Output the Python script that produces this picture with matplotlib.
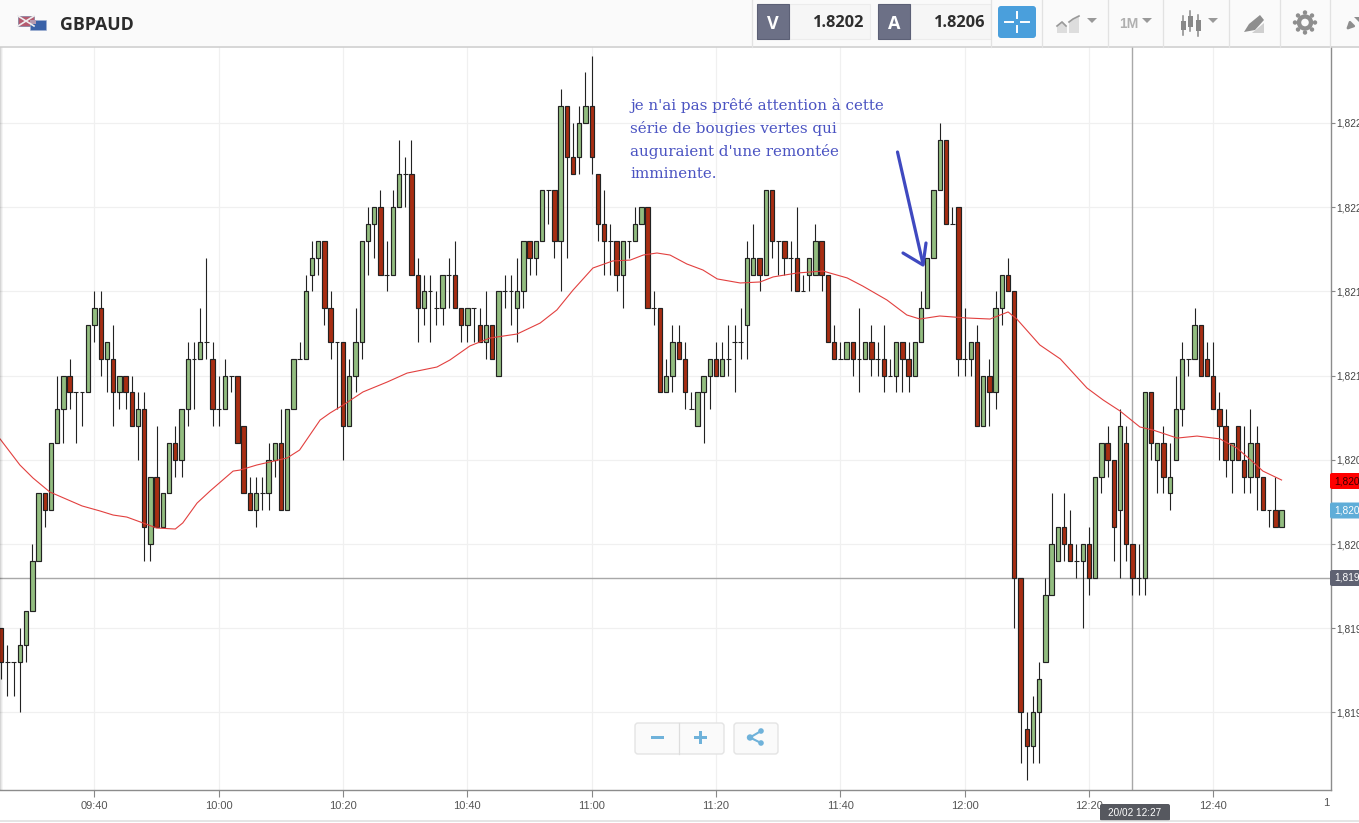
import matplotlib
matplotlib.use("Agg")
import matplotlib.pyplot as plt
from matplotlib.patches import Rectangle, FancyBboxPatch, Circle, Polygon

# ---------- data (prices as pips from 1.8200, one candle per minute) ----------
BASE = 1.8200
PIP = 0.0001
first_minute = -15   # minutes relative to 09:40

opens = [-5,-7,-7,-7,-6,-4,-1,3,2,6, 8,10,9,9,9,13,14,11,11,9,
         10,9,7,8,0,4,1,3,6,5, 8,11,11,12,11,8,8,10,10,7,
         3,2,3,3,5,6,2,8,11,11, 16,17,18,14,12,12,7,10,12,18,
         19,20,16,16,20,22,22,16,14,15, 14,14,16,16,14,13,14,13,12,13,
         10,15,15,14,15,18,17,18,21,21, 18,26,23,23,25,26,22,19,18,18,
         16,18,18,19,20,14,14,9,10,12, 11,8,7,9,10,11,10,11,12,12,
         13,16,17,16,21,18,18,17,17,15, 16,16,18,16,12,11,11,12,11,11,
         12,11,11,10,10,12,11,10,12,14, 17,21,24,19,20,11,11,12,7,10,
         9,14,16,15,-2,-11,-12,-10,-7,-3, -1,1,0,-1,-1,0,-2,4,6,5,
         2,6,0,-2,-2,9,5,6,3,5, 8,11,11,13,11,10,8,7,5,7,
         5,4,6,4,2,2,1]
closes = [-7,-7,-7,-6,-4,-1,3,2,6,8, 10,9,9,9,13,14,11,12,9,10,
          9,7,8,1,4,1,3,6,5,8, 11,11,12,12,8,8,10,10,6,3,
          2,3,3,5,6,2,8,11,11,15, 17,18,14,12,12,7,10,12,18,19,
          20,16,16,20,22,22,16,14,15,15, 14,16,16,14,13,14,14,12,13,11,
          15,15,15,15,18,17,18,21,21,18, 26,23,22,25,26,23,19,18,18,16,
          18,18,19,20,14,14,9,10,12,11, 9,8,9,10,11,10,11,11,12,12,
          17,17,16,21,18,18,17,17,15,15, 17,18,16,12,11,11,12,11,11,12,
          11,11,10,10,12,11,10,12,14,17, 21,24,19,19,11,11,12,7,10,9,
          14,16,15,-2,-10,-12,-10,-8,-3,0, 1,0,-1,-1,0,-2,4,6,5,1,
          7,0,-2,-2,9,6,6,4,4,8, 11,11,13,10,10,8,7,5,6,5,
          4,6,4,2,2,1,2]
highs = [-5,-6,-7,-5,-4,0,3,3,6,10, 10,11,9,9,13,15,15,12,13,10,
         10,10,9,9,4,7,3,6,7,8, 12,12,14,17,12,10,11,10,10,7,
         4,4,4,6,6,8,8,11,12,16, 18,18,18,15,12,12,11,14,18,20,
         20,21,18,21,24,23,24,17,16,16, 15,16,17,18,14,14,14,14,15,13,
         15,16,16,17,18,18,18,21,21,21, 27,26,25,26,28,29,22,21,19,18,
         18,18,20,20,20,15,14,11,13,13, 12,9,9,10,11,12,12,13,13,14,
         18,19,17,21,21,18,18,18,20,16, 17,19,18,16,13,12,12,12,14,12,
         13,12,13,11,12,12,12,12,15,17, 21,25,24,20,20,14,12,13,10,11,
         15,16,17,15,-2,-10,-9,-7,-2,3, 1,3,2,0,0,1,4,6,7,5,
         8,7,0,0,9,9,6,7,6,10, 12,11,14,13,12,12,9,8,6,7,
         7,8,7,4,2,4,2]
lows = [-8,-9,-9,-10,-7,-4,-1,1,2,6, 6,8,6,7,9,12,10,9,7,8,
        8,7,5,-1,-1,1,1,3,4,4, 7,8,11,11,7,7,8,9,6,3,
        2,1,2,2,4,2,2,8,11,11, 15,16,13,11,8,5,7,9,11,16,
        17,16,15,16,20,20,16,12,13,12, 13,13,14,14,12,12,12,12,11,11,
        10,14,13,12,14,16,16,18,19,17, 15,17,22,22,25,22,18,16,16,15,
        14,17,18,19,14,13,9,9,9,11, 8,8,7,6,8,10,10,10,9,11,
        11,16,15,16,17,16,16,15,15,15, 15,16,15,12,11,11,11,10,9,11,
        10,10,9,10,9,9,9,10,12,14, 17,21,19,19,10,10,10,7,7,7,
        8,13,15,-5,-13,-14,-13,-13,-7,-3, -1,-1,-1,-2,-5,-3,-2,3,4,-1,
        -2,-1,-3,-3,-3,5,3,3,2,5, 7,10,11,10,10,8,5,4,3,5,
        3,3,2,2,1,1,1]

ma_minutes = [-15.2,-12,-9.9,-7.2,-2,0.9,3,5.2,7.8,10,13,14.2,16.5,18.6,22.3,23.4,26.1,28.2,31,33,
              36.3,37.9,40,43.2,47.1,50.3,55.1,57.2,60.4,63.6,68,71.7,74.4,77,80.2,83.4,86.2,88.3,90.5,92.6,
              95.3,97.9,100.2,103.9,107.1,109.2,113,117.2,121.1,123.6,127.5,130.7,132.8,136,140.4,144.1,147,148.4,
              152.1,155.4,159.7,162.3,165,168.2,170.3,174.2,177.4,181.1,183.8,186.4,188,191]
ma_pips = [6.24,4.69,3.92,3.09,2.26,1.96,1.72,1.60,1.25,0.95,0.89,1.25,2.43,3.15,4.33,4.39,4.69,4.87,5.11,5.58,
           7.36,7.78,8.25,9.03,9.62,10.15,10.51,10.93,11.76,12.23,12.47,13.12,13.90,15.08,16.39,16.81,16.86,17.16,17.28,17.16,
           16.63,16.27,15.74,15.50,15.56,15.86,16.09,16.21,15.80,15.32,14.49,13.60,13.36,13.54,13.42,13.36,13.78,13.36,
           11.82,10.99,9.26,8.55,7.90,6.95,6.77,6.29,6.41,6.24,5.70,4.87,4.33,3.80]

time_ticks = [0,20,40,60,80,100,120,140,160,180,200]
time_labels = ["09:40","10:00","10:20","10:40","11:00","11:20","11:40","12:00","12:20","12:40","1"]
price_ticks = [25,20,15,10,5,0,-5,-10]
price_labels = ["1,822","1,822","1,821","1,821","1,820","1,820","1,819","1,819"]
cross_minute = 167
cross_pip = -2

annotation = ["je n'ai pas prêté attention à cette",
              "série de bougies vertes qui",
              "auguraient d'une remontée",
              "imminente."]

GREEN = "#93bd80"
RED = "#a82d12"
EDGE = "#222222"

# ---------- figure ----------
W, H = 1359, 823
fig = plt.figure(figsize=(W/100, H/100), dpi=100, facecolor="white")
AX_L, AX_R, AX_T, AX_B = 0, 1331, 47, 790
ax = fig.add_axes([AX_L/W, 1-AX_B/H, (AX_R-AX_L)/W, (AX_B-AX_T)/H])
PX_PER_MIN = 6.215
X0 = 94.5
PX_PER_PIP = 16.84
Y0 = 544
price = lambda p: BASE + p*PIP
ax.set_xlim((AX_L-X0)/PX_PER_MIN, (AX_R-X0)/PX_PER_MIN)
ax.set_ylim(price((Y0-AX_B)/PX_PER_PIP), price((Y0-AX_T)/PX_PER_PIP))

ax.set_xticks(time_ticks[:-1])
ax.set_xticklabels(time_labels[:-1], fontsize=8.0, color="#555555", family="Liberation Sans")
ax.set_yticks([price(p) for p in price_ticks])
ax.set_yticklabels(price_labels, fontsize=7.3, color="#444444", family="Liberation Sans")
ax.yaxis.tick_right()
ax.tick_params(axis="x", length=5, width=0.8, color="#888888", pad=3)
ax.tick_params(axis="y", length=3, width=0.8, color="#888888", pad=0.6)
ax.grid(True, color="#f0f0f0", lw=0.9)
ax.set_axisbelow(True)
for s in ("top", "left"):
    ax.spines[s].set_visible(False)
for s in ("right", "bottom"):
    ax.spines[s].set_color("#8c8c8c")
    ax.spines[s].set_linewidth(1.0)

ax.axvline(cross_minute, color="#a8a8a8", lw=1.0, zorder=1.5)
ax.axhline(price(cross_pip), color="#a8a8a8", lw=1.0, zorder=1.5)

# candles
for i, (o, c, h, l) in enumerate(zip(opens, closes, highs, lows)):
    t = first_minute + i
    ax.vlines(t, price(l), price(h), color=EDGE, lw=0.8, zorder=2)
    if o == c:
        ax.hlines(price(o), t-0.38, t+0.38, color=EDGE, lw=0.8, zorder=2)
    else:
        ax.bar(t, abs(c-o)*PIP, bottom=price(min(o, c)), width=0.7,
               color=GREEN if c > o else RED, edgecolor=EDGE, linewidth=0.85, zorder=3)

ax.plot(ma_minutes, [price(p) for p in ma_pips], color="#e2403f", lw=0.8, zorder=4)

# ---------- interface overlay in pixel coordinates ----------
ui = fig.add_axes([0, 0, 1, 1], facecolor="none", zorder=5)
ui.set_xlim(0, W)
ui.set_ylim(H, 0)
ui.axis("off")

ui.add_patch(Rectangle((0, 0), W, 46, fc="#fafafa", ec="none"))
ui.plot([0, W], [46.5, 46.5], color="#cccccc", lw=1.1)
for i, a in enumerate([0.16, 0.09, 0.04]):
    ui.add_patch(Rectangle((i, 47), 1, 743, fc="black", alpha=a, ec="none"))
ui.plot([0, W], [820.5, 820.5], color="#e0e0e0", lw=1.2)
for x in [752, 991, 1042, 1108, 1163, 1229, 1280, 1330]:
    ui.plot([x, x], [0, 47], color="#e2e2e2", lw=0.9)

# flags
ui.add_patch(Rectangle((18, 16), 16, 10, fc="#b55a6e", ec="#7a7f9e", lw=0.5))
ui.plot([18, 34], [16, 26], color="#eee", lw=1.2)
ui.plot([18, 34], [26, 16], color="#eee", lw=1.2)
ui.add_patch(Rectangle((30, 20), 16, 10, fc="#3a62a8", ec="#9fb0d0", lw=0.4))
ui.add_patch(Rectangle((30, 20), 6, 4, fc="#b59ab0", ec="none"))
ui.text(60, 24.5, "GBPAUD", fontsize=12.8, fontweight="bold", color="#2b2b2b",
        family="Open Sans", va="center", ha="left")

# bid / ask
for x, letter, val in [(757, "V", "1.8202"), (878, "A", "1.8206")]:
    ui.add_patch(Rectangle((x+32, 4), 81, 35, fc="#f6f6f6", ec="#ececec", lw=0.8))
    ui.add_patch(Rectangle((x, 4), 32, 35, fc="#6c7086", ec="#5c6076", lw=0.8))
    ui.text(x+16, 23.5, letter, color="white", fontsize=13, fontweight="bold",
            family="Open Sans", ha="center", va="center")
    ui.text(x+107, 22.5, val, color="#2e2e2e", fontsize=11.8, fontweight="bold",
            family="Open Sans", ha="right", va="center")
ui.add_patch(FancyBboxPatch((998, 6), 38, 32, boxstyle="round,pad=0,rounding_size=3",
                            fc="#4a9fdc", ec="none"))
ui.plot([1005, 1013], [22, 22], color="white", lw=1.4)
ui.plot([1021, 1029], [22, 22], color="white", lw=1.4)
ui.plot([1017, 1017], [12, 18], color="white", lw=1.4)
ui.plot([1017, 1017], [26, 32], color="white", lw=1.4)

# toolbar icons
GR = "#999999"
ui.add_patch(Polygon([(1057, 33), (1057, 26), (1062, 21), (1067, 26), (1067, 33)], fc="#dddddd", ec="none"))
ui.add_patch(Polygon([(1069, 33), (1069, 22), (1073, 19), (1079, 16), (1079, 33)], fc="#dddddd", ec="none"))
ui.plot([1057, 1062, 1066], [26, 22, 26], color=GR, lw=1.2)
ui.plot([1069, 1073, 1079], [22, 19, 16], color=GR, lw=1.2)
for x in [1092, 1147, 1213]:
    ui.add_patch(Polygon([(x-5, 18), (x+5, 18), (x, 23)], fc=GR, ec="none"))
ui.text(1129, 23.5, "1M", fontsize=10, fontweight="bold", color="#b0b0b0",
        family="Liberation Sans", ha="center", va="center")
for x, y0, y1, b0, b1 in [(1183, 16, 35, 21, 30), (1190, 11, 31, 16, 27), (1198, 15, 36, 20, 31)]:
    ui.plot([x, x], [y0, y1], color="#888888", lw=1.1)
    ui.add_patch(Rectangle((x-2.5, b0), 5, b1-b0, fc="#888888", ec="none"))
ui.add_patch(Polygon([(1244, 32), (1249, 24), (1260, 15), (1264, 20), (1255, 30)], fc="#8e8e8e", ec="none"))
ui.add_patch(Polygon([(1252, 33), (1264, 23), (1264, 33)], fc="#cfcfcf", ec="none"))
ui.add_patch(Circle((1305, 22.5), 8.2, fc="#8e8e8e", ec="none"))
for dx, dy in [(0, -10), (0, 10), (-10, 0), (10, 0), (-7, -7), (7, 7), (-7, 7), (7, -7)]:
    ui.add_patch(Circle((1305+dx, 22.5+dy), 2.2, fc="#8e8e8e", ec="none"))
ui.add_patch(Circle((1305, 22.5), 3.8, fc="#fafafa", ec="none"))
ui.annotate("", xy=(1344, 32), xytext=(1352, 24),
            arrowprops=dict(arrowstyle="-|>", color="#8e8e8e", lw=1.8))
ui.add_patch(Polygon([(1354, 17), (1359, 17), (1359, 22)], fc="#8e8e8e", ec="none"))

# price tags
for y, fc, lab in [(481, "#ff0000", "1,820"), (510.5, "#5fadd8", "1,820"), (578, "#5f6272", "1,819")]:
    ui.add_patch(FancyBboxPatch((1330, y-8), 40, 16, boxstyle="round,pad=0,rounding_size=2",
                                fc=fc, ec="none", clip_on=True))
    ui.text(1334.5, y, lab, fontsize=7.3, family="Liberation Sans",
            color="#3a0000" if fc == "#ff0000" else "white", va="center", ha="left")

# time tag and clipped last label
ui.text(1326, 803, time_labels[-1], fontsize=8.0, color="#555555",
        family="Liberation Sans", ha="center", va="center")
ui.add_patch(FancyBboxPatch((1100, 804), 70, 17, boxstyle="round,pad=0,rounding_size=2",
                            fc="#56585f", ec="none"))
ui.text(1135, 812.5, "20/02 12:27", fontsize=7.2, color="white",
        family="Liberation Sans", ha="center", va="center")

# zoom / share buttons
ui.add_patch(FancyBboxPatch((635, 723), 89, 31, boxstyle="round,pad=0,rounding_size=3",
                            fc="#fafafa", ec="#e4e4e4", lw=1.0))
ui.plot([678.5, 678.5], [723, 754], color="#dddddd", lw=0.9)
ui.add_patch(FancyBboxPatch((734, 723), 44, 31, boxstyle="round,pad=0,rounding_size=3",
                            fc="#fafafa", ec="#e4e4e4", lw=1.0))
BL = "#6fb2da"
ui.add_patch(Rectangle((651, 736), 13, 3, fc=BL, ec="none"))
ui.add_patch(Rectangle((694, 736), 13, 3, fc=BL, ec="none"))
ui.add_patch(Rectangle((699, 731), 3, 13, fc=BL, ec="none"))
ui.plot([761, 750, 761], [731, 737.5, 743], color=BL, lw=1.5)
for cx, cy, r in [(761, 731, 2.8), (750, 737.5, 3.2), (761, 743, 2.8)]:
    ui.add_patch(Circle((cx, cy), r, fc=BL, ec="none"))

# handwritten note and arrow
TXT = "#4a53c2"
for line, y in zip(annotation, [105, 128, 151, 174]):
    ui.text(630, y, line, fontsize=10.9, color=TXT, family="DejaVu Serif",
            ha="left", va="center", fontweight="normal")
ARW = "#3f49c0"
ui.plot([897.5, 923], [152, 264], color=ARW, lw=2.3, solid_capstyle="round")
ui.plot([903, 923, 926], [253, 265, 243], color=ARW, lw=2.3, solid_capstyle="round",
        solid_joinstyle="round")

fig.savefig("out.png", dpi=100, facecolor="white")
